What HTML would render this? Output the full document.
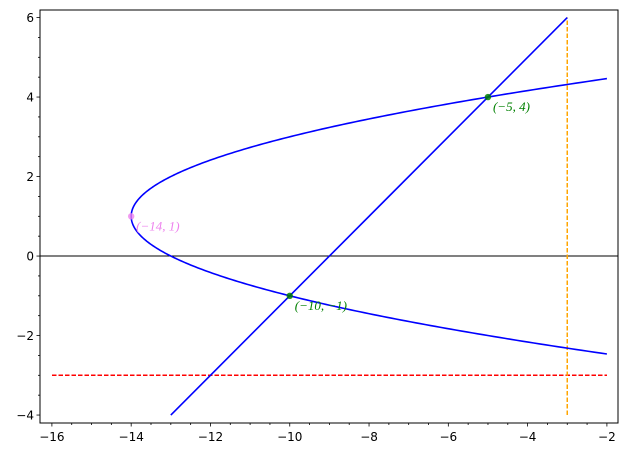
<!DOCTYPE html>
<html><head><meta charset="utf-8"><style>
html,body{margin:0;padding:0;background:#fff;}
svg text{font-family:"DejaVu Sans","Liberation Sans",sans-serif;}
.lbl{font-family:"Liberation Serif",serif;font-size:13px;}
</style></head><body>
<svg id="chart" width="629" height="457" xmlns="http://www.w3.org/2000/svg"></svg>
<script>
const xTicks=[-16,-14,-12,-10,-8,-6,-4,-2];
const yTicks=[-4,-2,0,2,4,6];
const vertex=[-14,1];
const parabolaA=[1];
const lineSlope=[1];
const lineIntercept=[9];
const lineXRange=[-13,-3];
const parabolaXMax=[-2];
const points=[[-5,4],[-10,-1],[-14,1]];
const pointLabels=["(\u22125, 4)","(\u221210, \u22121)","(\u221214, 1)"];
const pointColors=["#008000","#008000","violet"];
const hLineY=[-3];
const hLineX=[-16,-2];
const vLineX=[-3];
const vLineY=[-4,6];

const L=40,R=618,T=10,B=423;
const xmin=-16.3,xmax=-1.72,ymin=-4.2,ymax=6.19;
const sx=v=>L+(v-xmin)/(xmax-xmin)*(R-L);
const sy=v=>B-(v-ymin)/(ymax-ymin)*(B-T);
const svg=document.getElementById('chart');
const NS='http://www.w3.org/2000/svg';
function mk(tag,attrs){const e=document.createElementNS(NS,tag);for(const k in attrs)e.setAttribute(k,attrs[k]);svg.appendChild(e);return e;}

let e=mk('line',{x1:L,x2:R,y1:sy(0),y2:sy(0),stroke:'#000','stroke-width':1});



e=mk('line',{x1:sx(hLineX[0]),x2:sx(hLineX[1]),y1:sy(hLineY[0]),y2:sy(hLineY[0]),stroke:'#ff0000','stroke-width':1.5,'stroke-dasharray':'4.5,2','shape-rendering':'crispEdges'});


e=mk('line',{x1:sx(vLineX[0]),x2:sx(vLineX[0]),y1:sy(vLineY[0]),y2:sy(vLineY[1]),stroke:'#ffa500','stroke-width':1.5,'stroke-dasharray':'4.5,2','shape-rendering':'crispEdges'});



const a=parabolaA[0],h=vertex[0],k=vertex[1];
const ySpan=Math.sqrt((parabolaXMax[0]-h)/a);
let d='';
for(let i=0;i<=300;i++){const y=k-ySpan+2*ySpan*i/300;const x=a*(y-k)*(y-k)+h;d+=(i?'L':'M')+sx(x).toFixed(2)+','+sy(y).toFixed(2);}
e=mk('path',{d:d,fill:'none',stroke:'blue','stroke-width':1.6});



e=mk('line',{x1:sx(lineXRange[0]),y1:sy(lineSlope[0]*lineXRange[0]+lineIntercept[0]),x2:sx(lineXRange[1]),y2:sy(lineSlope[0]*lineXRange[1]+lineIntercept[0]),stroke:'blue','stroke-width':1.6});



points.forEach((p,i)=>{
 const c=mk('circle',{cx:sx(p[0]),cy:sy(p[1]),r:3.2,fill:pointColors[i],opacity:i==2?0.8:0.85});
 
 
 const t=mk('text',{x:sx(p[0])+5,y:sy(p[1])+14,fill:pointColors[i],class:'lbl','font-style':'italic'});
 t.textContent=pointLabels[i];
 
 
});

e=mk('rect',{x:L,y:T,width:R-L,height:B-T,fill:'none',stroke:'#000','stroke-width':1});



for(let v=xTicks[0];v<=xTicks[xTicks.length-1]+0.01;v+=0.5){
 const major=xTicks.includes(v);
 mk('line',{x1:sx(v),x2:sx(v),y1:B,y2:B+(major?3.5:2),stroke:'#000','stroke-width':0.8});
}
xTicks.forEach(v=>{const t=mk('text',{x:sx(v),y:B+18,'text-anchor':'middle','font-size':12});t.textContent=(v<0?'\u2212':'')+Math.abs(v);
 
 });
for(let v=yTicks[0];v<=yTicks[yTicks.length-1]+0.01;v+=0.5){
 const major=yTicks.includes(v);
 mk('line',{x1:L,x2:L-(major?3.5:2),y1:sy(v),y2:sy(v),stroke:'#000','stroke-width':0.8});
}
yTicks.forEach(v=>{const t=mk('text',{x:L-6,y:sy(v)+4.5,'text-anchor':'end','font-size':12});t.textContent=(v<0?'\u2212':'')+Math.abs(v);
 
 });
</script>
</body></html>
